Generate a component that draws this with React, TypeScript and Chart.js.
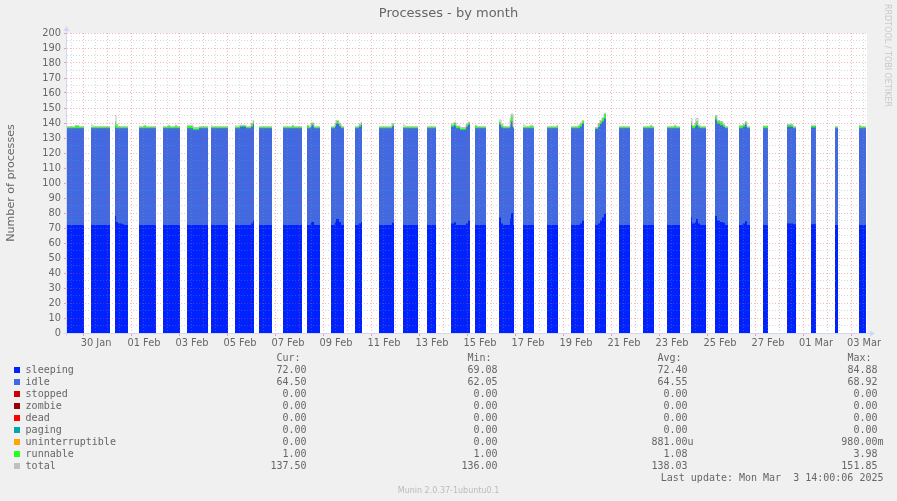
import React, { useEffect, useRef } from "react";
import { Chart, registerables } from "chart.js";

Chart.register(...registerables);

// ---------- data (x = hours after 30 Jan 00:00) ----------
const xMin = -16;
const xMax = 784;

const xTickLabels = [
  "30 Jan", "01 Feb", "03 Feb", "05 Feb", "07 Feb", "09 Feb", "11 Feb", "13 Feb", "15 Feb",
  "17 Feb", "19 Feb", "21 Feb", "23 Feb", "25 Feb", "27 Feb", "01 Mar", "03 Mar",
];

const hours = [
  -16, -8, -4, 1, 2,
  8, 10, 27, 28,
  32, 33, 35, 39, 41, 45, 46,
  56, 61, 63, 73, 74,
  80, 85, 87, 92, 94, 97, 98,
  104, 110, 116, 125, 126,
  128, 130, 145, 146,
  152, 157, 163, 168, 170, 171, 172,
  176, 189, 190,
  200, 209, 211, 219, 220,
  224, 226, 228, 231, 237, 238,
  248, 252, 253, 256, 258, 261, 262,
  272, 276, 278, 279, 280,
  296, 309, 311, 312,
  320, 322, 335, 336,
  344, 353, 354,
  368, 371, 373, 377, 383, 385, 387, 388,
  392, 394, 403, 404,
  416, 418, 420, 427, 428, 430, 431, 432,
  440, 442, 447, 450, 451, 452,
  464, 472, 474, 475, 476,
  488, 495, 497, 499, 501, 502,
  512, 515, 517, 519, 521, 523, 524,
  536, 547, 548,
  560, 567, 569, 571, 572,
  584, 591, 593, 597, 598,
  608, 609, 612, 613, 615, 617, 623, 624,
  632, 634, 637, 640, 642, 645, 646,
  656, 660, 662, 664, 667, 668,
  680, 685, 686,
  704, 710, 713, 714,
  728, 733, 734,
  752, 755, 756,
  776, 778, 783,
];

const sleeping = [
  72, 72, 72, 72, null,
  72, 72, 72, null,
  78, 74, 73, 72.5, 72, 72, null,
  72, 72, 72, 72, null,
  72, 72, 72, 72, 72, 72, null,
  72, 72, 72, 72, null,
  72, 72, 72, null,
  72, 72, 72, 73, 75, 75, null,
  72, 72, null,
  72, 72, 72, 72, null,
  72, 72, 74, 72, 72, null,
  72, 74, 76, 74, 72, 72, null,
  72, 73, 74, 74, null,
  72, 73.5, 73.5, null,
  72, 72, 72, null,
  72, 72, null,
  73, 74, 72, 72, 73, 75, 75, null,
  72, 72, 72, null,
  77, 73, 72, 76, 80, 72, 72, null,
  72, 72, 72, 72, 72, null,
  72, 72, 72, 72, null,
  72, 72, 73, 75, 75, null,
  72, 73, 75, 77, 79.5, 79.5, null,
  72, 72, null,
  72, 72, 72, 72, null,
  72, 72, 72, 72, null,
  77, 73, 74, 76, 73, 72, 72, null,
  78, 75, 74, 73.5, 72, 72, null,
  72, 73, 74.5, 72, 72, null,
  72, 72, null,
  73, 72.5, 72.5, null,
  72.5, 72.5, null,
  72, 72, null,
  72, 72, 72,
];

const idle = [
  64.5, 64.5, 64.5, 64.5, null,
  64.5, 64.5, 64.5, null,
  59, 62.5, 63.5, 64, 64.5, 64.5, null,
  64.5, 64.5, 64.5, 64.5, null,
  64.5, 64.5, 64.5, 64.5, 64.5, 64.5, null,
  64.5, 63.5, 64.5, 64.5, null,
  64.5, 64.5, 64.5, null,
  64.5, 65.5, 64.5, 64.5, 64, 64, null,
  64.5, 64.5, null,
  64.5, 64.5, 64.5, 64.5, null,
  64.5, 64.5, 64.5, 64.5, 64.5, null,
  64.5, 64, 63.5, 64, 64.5, 64.5, null,
  64.5, 64.5, 64.5, 64.5, null,
  64.5, 64.5, 64.5, null,
  64.5, 64.5, 64.5, null,
  64.5, 64.5, null,
  64.5, 64.5, 64.5, 63.5, 64.5, 64, 64, null,
  64.5, 64.5, 64.5, null,
  62, 64, 64.5, 63, 61, 64.5, 64.5, null,
  64.5, 64.5, 64.5, 64.5, 64.5, null,
  64.5, 64.5, 64.5, 64.5, null,
  64.5, 64.5, 64.5, 64.5, 64.5, null,
  64, 64.5, 64.5, 64, 63.5, 63.5, null,
  64.5, 64.5, null,
  64.5, 64.5, 64.5, 64.5, null,
  64.5, 64.5, 64.5, 64.5, null,
  62, 63.5, 63.5, 62.5, 64, 64.5, 64.5, null,
  64.5, 64.5, 64.5, 64, 64.5, 64.5, null,
  64.5, 64.5, 64.5, 64.5, 64.5, null,
  64.5, 64.5, null,
  64.5, 64, 64, null,
  64.5, 64.5, null,
  64.5, 64.5, null,
  64.5, 64.5, 64.5,
];

const runnable = [
  1, 1.8, 1, 1, null,
  1, 1, 1, null,
  4, 2, 1, 1, 1, 1, null,
  1, 1.5, 1, 1, null,
  1, 1.5, 1, 1.5, 1, 1, null,
  1.5, 1, 1, 1, null,
  1, 1, 1, null,
  1, 1, 1, 2, 2.5, 2.5, null,
  1, 1, null,
  1, 1.5, 1, 1, null,
  2, 1, 1.5, 1, 1, null,
  1, 1.5, 2, 1.5, 1, 1, null,
  1, 1.5, 2, 2, null,
  1, 1.5, 1.5, null,
  1, 1, 1, null,
  1, 1, null,
  1.5, 1.5, 1.5, 1, 1.5, 1.5, 1.5, null,
  1.5, 1, 1, null,
  2, 1.5, 1, 3, 4, 1, 1, null,
  1, 1, 1.5, 1, 1, null,
  1, 1, 1.5, 1.5, null,
  1, 1.5, 2, 2, 2, null,
  1, 2, 2, 2.5, 3, 3, null,
  1, 1, null,
  1, 1.5, 1, 1, null,
  1, 1.5, 1, 1, null,
  2, 1.5, 2.5, 3, 1.5, 1, 1, null,
  2, 2, 2, 1.5, 1, 1, null,
  1.5, 1.5, 2, 1, 1, null,
  1.5, 1.5, null,
  1.5, 1, 1, null,
  1, 1, null,
  1, 1, null,
  1.5, 1, 1,
];

const total = [
  137.5, 138.3, 137.5, 137.5, null,
  138.5, 137.5, 137.5, null,
  145, 139, 137.5, 137.5, 137.5, 137.5, null,
  137.5, 138.5, 137.5, 137.5, null,
  137.5, 138.5, 137.5, 138.5, 137.5, 137.5, null,
  138.5, 137, 137.5, 137.5, null,
  138, 137.5, 137.5, null,
  138, 138.5, 137.5, 139.5, 141.5, 141.5, null,
  137.5, 137.5, null,
  137.5, 138.5, 137.5, 137.5, null,
  138.5, 137.5, 140, 137.5, 137.5, null,
  137.5, 139.5, 141.5, 139.5, 137.5, 137.5, null,
  137.5, 139, 140.5, 140.5, null,
  137.5, 139.5, 139.5, null,
  138.5, 137.5, 137.5, null,
  137.5, 137.5, null,
  139.5, 140.5, 138, 137, 139, 140.5, 140.5, null,
  138.5, 137.5, 137.5, null,
  142, 139, 137.5, 143, 146, 137.5, 137.5, null,
  138.5, 137.5, 138.5, 137.5, 137.5, null,
  137.5, 137.5, 138.5, 138.5, null,
  137.5, 138.5, 140, 141.5, 141.5, null,
  137, 139.5, 141.5, 143.5, 146.5, 146.5, null,
  137.5, 137.5, null,
  137.5, 138.5, 137.5, 137.5, null,
  137.5, 138.5, 137.5, 137.5, null,
  143, 138.5, 140, 143, 138.5, 137.5, 137.5, null,
  145, 141.5, 141, 139, 137.5, 137.5, null,
  138.5, 139, 140.5, 137.5, 137.5, null,
  138, 138, null,
  139, 137.5, 137.5, null,
  138.5, 138.5, null,
  137.5, 137.5, null,
  138.5, 137.5, 137.5,
];

// legend table
const legendNames = ["sleeping", "idle", "stopped", "zombie", "dead", "paging", "uninterruptible", "runnable", "total"];
const legendColors = ["#0022ff", "#4169e1", "#cc0000", "#990000", "#ff0000", "#00aaaa", "#ffa500", "#22ff22", "#c0c0c0"];
const curValues = ["72.00", "64.50", "0.00", "0.00", "0.00", "0.00", "0.00", "1.00", "137.50"];
const minValues = ["69.08", "62.05", "0.00", "0.00", "0.00", "0.00", "0.00", "1.00", "136.00"];
const avgValues = ["72.40", "64.55", "0.00", "0.00", "0.00", "0.00", "881.00u", "1.08", "138.03"];
const maxValues = ["84.88", "68.92", "0.00", "0.00", "0.00", "0.00", "980.00m", "3.98", "151.85"];

// ---------- styling ----------
const FONT_COLOR = "#666666";
const AXIS_COLOR = "#CFD6F8";
const MAJOR = "rgba(222,79,79,0.4)";
const MINOR = "rgba(143,143,143,0.35)";
const MAJOR_TICK = "rgba(222,79,79,0.5)";
const CLEAR = "rgba(0,0,0,0)";

const pts = (vals: (number | null)[]) => hours.map((h, i) => ({ x: h, y: vals[i] }));

const framePlugin = {
  id: "rrdFrame",
  beforeDraw(chart: any) {
    const { ctx, chartArea: a } = chart;
    ctx.save();
    ctx.fillStyle = "#ffffff";
    ctx.fillRect(a.left, a.top, a.right - a.left, a.bottom - a.top);
    ctx.restore();
  },
  afterDraw(chart: any) {
    const { ctx, chartArea: a } = chart;
    const ax = a.left - 0.5;
    const ay = a.bottom + 0.5;
    ctx.save();
    ctx.strokeStyle = AXIS_COLOR;
    ctx.fillStyle = AXIS_COLOR;
    ctx.lineWidth = 1;
    ctx.beginPath();
    ctx.moveTo(ax, ay + 3);
    ctx.lineTo(ax, a.top - 3);
    ctx.moveTo(ax - 3, ay);
    ctx.lineTo(a.right + 4, ay);
    ctx.stroke();
    // arrows
    ctx.beginPath();
    ctx.moveTo(ax, a.top - 7);
    ctx.lineTo(ax - 3, a.top - 2);
    ctx.lineTo(ax + 3, a.top - 2);
    ctx.closePath();
    ctx.fill();
    ctx.beginPath();
    ctx.moveTo(a.right + 8, ay);
    ctx.lineTo(a.right + 3, ay - 3);
    ctx.lineTo(a.right + 3, ay + 3);
    ctx.closePath();
    ctx.fill();
    ctx.restore();
  },
};

const mono: React.CSSProperties = {
  position: "absolute",
  fontFamily: '"DejaVu Sans Mono", monospace',
  fontSize: "10px",
  lineHeight: "12px",
  height: "12px",
  whiteSpace: "pre",
  color: FONT_COLOR,
};

const colRight = [312.6, 503.6, 693.6, 883.5];
const colHeaders = ["Cur:", "Min:", "Avg:", "Max:"];
const rowTop = (i: number) => 363.8 + 12 * i;
const withUnit = (v: string) => (/[a-z]$/.test(v) ? v : v + " ");

export default function App() {
  const canvasRef = useRef<HTMLCanvasElement | null>(null);

  useEffect(() => {
    if (!canvasRef.current) return;
    const common = {
      pointRadius: 0,
      pointHoverRadius: 0,
      stepped: "before" as const,
      spanGaps: false,
      tension: 0,
    };
    const chart = new Chart(canvasRef.current, {
      type: "line",
      data: {
        datasets: [
          {
            ...common,
            label: "total",
            data: pts(total),
            stack: "total",
            borderColor: "#c0c0c0",
            borderWidth: 1,
            fill: false,
          },
          {
            ...common,
            label: "sleeping",
            data: pts(sleeping),
            stack: "procs",
            backgroundColor: "#0022ff",
            borderColor: CLEAR,
            borderWidth: 0,
            fill: "origin",
          },
          {
            ...common,
            label: "idle",
            data: pts(idle),
            stack: "procs",
            backgroundColor: "#4169e1",
            borderColor: CLEAR,
            borderWidth: 0,
            fill: "origin",
          },
          {
            ...common,
            label: "runnable",
            data: pts(runnable),
            stack: "procs",
            backgroundColor: "#22ff22",
            borderColor: CLEAR,
            borderWidth: 0,
            fill: "origin",
          },
        ] as any,
      },
      options: {
        animation: false,
        responsive: false,
        maintainAspectRatio: false,
        events: [],
        layout: { padding: { top: 33, left: 0, right: 30, bottom: 148 } },
        plugins: {
          legend: { display: false },
          tooltip: { enabled: false },
          title: { display: false },
        },
        scales: {
          x: {
            type: "linear",
            min: xMin,
            max: xMax,
            afterBuildTicks: (s: any) => {
              const t = [];
              for (let h = -12; h <= 780; h += 12) t.push({ value: h });
              s.ticks = t;
            },
            afterFit: (s: any) => {
              s.height = 20;
            },
            grid: {
              z: 1,
              lineWidth: 1,
              color: (c: any) => (c.tick && c.tick.value % 24 === 0 ? MAJOR : MINOR),
              drawTicks: true,
              tickLength: 3,
              tickColor: (c: any) => (c.tick && c.tick.value % 48 === 0 ? MAJOR_TICK : CLEAR),
            },
            border: { display: false, dash: [1, 2] },
            ticks: {
              autoSkip: false,
              maxRotation: 0,
              minRotation: 0,
              padding: 2,
              labelOffset: 1,
              color: FONT_COLOR,
              font: { family: "DejaVu Sans", size: 9.8 },
              callback: (v: any) => {
                const i = (Number(v) - 12) / 48;
                return Number.isInteger(i) && i >= 0 && i < xTickLabels.length ? xTickLabels[i] : "";
              },
            },
          },
          y: {
            type: "linear",
            stacked: true,
            min: 0,
            max: 200,
            afterBuildTicks: (s: any) => {
              const t = [];
              for (let v = 0; v <= 200; v += 5) t.push({ value: v });
              s.ticks = t;
            },
            afterFit: (s: any) => {
              s.width = 67;
            },
            grid: {
              z: 1,
              lineWidth: 1,
              color: (c: any) => (c.tick && c.tick.value % 10 === 0 ? MAJOR : MINOR),
              drawTicks: true,
              tickLength: 3,
              tickColor: (c: any) => (c.tick && c.tick.value % 10 === 0 ? MAJOR_TICK : CLEAR),
            },
            border: { display: false, dash: [1, 2] },
            ticks: {
              autoSkip: false,
              padding: 3,
              color: FONT_COLOR,
              font: { family: "DejaVu Sans", size: 9.8 },
              callback: (v: any) => (Number(v) % 10 === 0 ? String(v) : ""),
            },
            title: {
              display: true,
              text: "Number of processes",
              color: FONT_COLOR,
              font: { family: "DejaVu Sans", size: 11.1 },
              padding: { top: 4, bottom: 0 },
            },
          },
        },
      } as any,
      plugins: [framePlugin],
    });
    return () => chart.destroy();
  }, []);

  return (
    <div
      style={{
        position: "absolute",
        left: 0,
        top: 0,
        width: 897,
        height: 501,
        background: "#f0f0f0",
        overflow: "hidden",
      }}
    >
      <canvas ref={canvasRef} width={897} height={501} style={{ display: "block", width: 897, height: 501 }} />

      <div
        style={{
          position: "absolute",
          left: 0,
          width: 897,
          top: 5.3,
          textAlign: "center",
          fontFamily: '"DejaVu Sans", sans-serif',
          fontSize: "13px",
          lineHeight: "15px",
          color: FONT_COLOR,
          whiteSpace: "pre",
        }}
      >
        Processes - by month
      </div>

      <div
        style={{
          position: "absolute",
          left: 882,
          top: 4,
          writingMode: "vertical-rl",
          fontFamily: '"DejaVu Sans", sans-serif',
          fontSize: "8px",
          lineHeight: "10px",
          color: "#c8c8c8",
          whiteSpace: "pre",
        }}
      >
        RRDTOOL / TOBI OETIKER
      </div>

      {colHeaders.map((h, c) => (
        <div key={"h" + c} style={{ ...mono, top: rowTop(-1), right: 897 - colRight[c] }}>
          {h + "  "}
        </div>
      ))}

      {legendNames.map((name, i) => (
        <React.Fragment key={name}>
          <div
            style={{
              position: "absolute",
              left: 14,
              top: 367.3 + 12 * i,
              width: 6,
              height: 6,
              background: legendColors[i],
            }}
          />
          <div style={{ ...mono, top: rowTop(i), left: 25.6 }}>{name}</div>
          {[curValues, minValues, avgValues, maxValues].map((col, c) => (
            <div key={c} style={{ ...mono, top: rowTop(i), right: 897 - colRight[c] }}>
              {withUnit(col[i])}
            </div>
          ))}
        </React.Fragment>
      ))}

      <div style={{ ...mono, top: rowTop(9), right: 897 - colRight[3] }}>
        {"Last update: Mon Mar  3 14:00:06 2025"}
      </div>

      <div
        style={{
          position: "absolute",
          left: 0,
          width: 897,
          top: 485.5,
          textAlign: "center",
          fontFamily: '"DejaVu Sans", sans-serif',
          fontSize: "8px",
          lineHeight: "10px",
          color: "#bbbbbb",
          whiteSpace: "pre",
        }}
      >
        Munin 2.0.37-1ubuntu0.1
      </div>
    </div>
  );
}
